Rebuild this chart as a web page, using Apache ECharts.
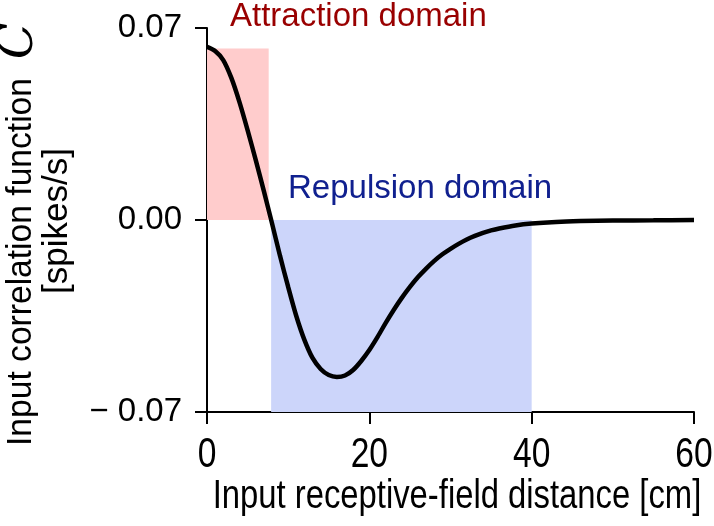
<!DOCTYPE html>
<html>
<head>
<meta charset="utf-8">
<script src="https://cdn.jsdelivr.net/npm/echarts@6/dist/echarts.min.js"></script>
<style>
  html, body { margin: 0; padding: 0; background: #fff; }
  #chart { width: 714px; height: 526px; }
</style>
</head>
<body>
<div id="chart"></div>
<script>
// distance [cm] and correlation C [spikes/s]
var dist = [0, 1, 2, 3, 4, 5, 6, 7, 8, 9, 10, 11, 12, 13, 14, 15, 16, 17, 18, 19, 20,
  21, 22, 23, 24, 25, 26, 27, 28, 29, 30, 31, 32, 33, 34, 35, 36, 38, 40, 43, 46, 50, 55, 60];
var corr = [0.0631, 0.0616, 0.0583, 0.0518, 0.0430, 0.0328, 0.0219, 0.0106, -0.0011, -0.0131,
  -0.0244, -0.0350, -0.0437, -0.0503, -0.0543, -0.0565, -0.0572, -0.0567, -0.0547, -0.0514,
  -0.0474, -0.0427, -0.0376, -0.0328, -0.0284, -0.0244, -0.0208, -0.0177, -0.0149, -0.0125,
  -0.0105, -0.0087, -0.0071, -0.0058, -0.0047, -0.0038, -0.0031, -0.0020, -0.0013, -0.0007,
  -0.0004, -0.0002, -0.0001, 0];

// shaded domains: [x0, x1, y0, y1]
var attraction = [0, 7.6, 0, 0.0625];
var repulsion = [7.9, 40, -0.07, 0];

var xTicks = [0, 20, 40, 60];
var yTicks = [-0.07, 0, 0.07];

var myChart = echarts.init(document.getElementById('chart'));

function fmtY(v) {
  if (Math.abs(v) < 1e-9) return '0.00';
  return v < 0 ? '\u2212 ' + Math.abs(v).toFixed(2) : v.toFixed(2);
}

var option = {
  animation: false,
  backgroundColor: '#fff',
  grid: { left: 207, right: 20, top: 28, bottom: 114, containLabel: false, outerBoundsMode: 'none' },
  xAxis: {
    type: 'value',
    min: xTicks[0],
    max: xTicks[xTicks.length - 1],
    interval: 20,
    axisLine: { onZero: false, lineStyle: { color: '#000', width: 2 } },
    axisTick: { length: 12, lineStyle: { color: '#000', width: 2 } },
    // labels drawn below as condensed graphic text
    axisLabel: { show: false },
    splitLine: { show: false }
  },
  yAxis: {
    type: 'value',
    min: yTicks[0],
    max: yTicks[yTicks.length - 1],
    interval: 0.07,
    axisLine: { onZero: false, lineStyle: { color: '#000', width: 2 } },
    axisTick: { length: 12, lineStyle: { color: '#000', width: 2 } },
    axisLabel: {
      margin: 25, fontFamily: 'Liberation Sans', fontSize: 33, color: '#000',
      formatter: fmtY
    },
    splitLine: { show: false }
  },
  series: [{
    type: 'line',
    data: dist.map(function (d, i) { return [d, corr[i]]; }),
    showSymbol: false,
    smooth: 0.3,
    lineStyle: { color: '#000', width: 4.5 },
    z: 3,
    markArea: {
      silent: true,
      data: [
        [{ xAxis: attraction[0], yAxis: attraction[2], itemStyle: { color: '#ffcccc', opacity: 1 } },
         { xAxis: attraction[1], yAxis: attraction[3] }],
        [{ xAxis: repulsion[0], yAxis: repulsion[2], itemStyle: { color: '#ccd5fa', opacity: 1 } },
         { xAxis: repulsion[1], yAxis: repulsion[3] }]
      ]
    }
  }],
  graphic: [
    {
      type: 'text', left: 230, top: 0,
      style: { text: 'Attraction domain', font: '33px "Liberation Sans"', fill: '#990000' }
    },
    {
      type: 'text', left: 288, top: 172,
      style: { text: 'Repulsion domain', font: '33px "Liberation Sans"', fill: '#10208f' }
    },
    {
      type: 'text', x: 457, y: 497, scaleX: 0.82,
      style: { text: 'Input receptive-field distance [cm]', font: '40px "Liberation Sans"', fill: '#000',
        textAlign: 'center', textVerticalAlign: 'middle' }
    },
    {
      type: 'text', x: 21, y: 262, rotation: Math.PI / 2, scaleX: 0.96,
      style: { text: 'Input correlation function', font: '35px "Liberation Sans"', fill: '#000',
        textAlign: 'center', textVerticalAlign: 'middle' }
    },
    {
      type: 'text', x: 20, y: 41, rotation: Math.PI / 2,
      style: { text: 'C', font: 'italic 48px "DejaVu Serif"', fill: '#000',
        textAlign: 'center', textVerticalAlign: 'middle' }
    },
    {
      type: 'text', x: 57, y: 221, rotation: Math.PI / 2,
      style: { text: '[spikes/s]', font: '35px "Liberation Sans"', fill: '#000',
        textAlign: 'center', textVerticalAlign: 'middle' }
    }
  ]
};

myChart.setOption(option);

// condensed x tick labels placed through the axis scale
var tickLabels = xTicks.map(function (t) {
  return {
    type: 'text',
    x: myChart.convertToPixel({ xAxisIndex: 0 }, t),
    y: 455,
    scaleX: 0.8,
    style: { text: String(t), font: '42px "Liberation Sans"', fill: '#000',
      textAlign: 'center', textVerticalAlign: 'middle' }
  };
});
myChart.setOption({ graphic: option.graphic.concat(tickLabels) });

window.onresize = function () { myChart.resize(); };
</script>
</body>
</html>
